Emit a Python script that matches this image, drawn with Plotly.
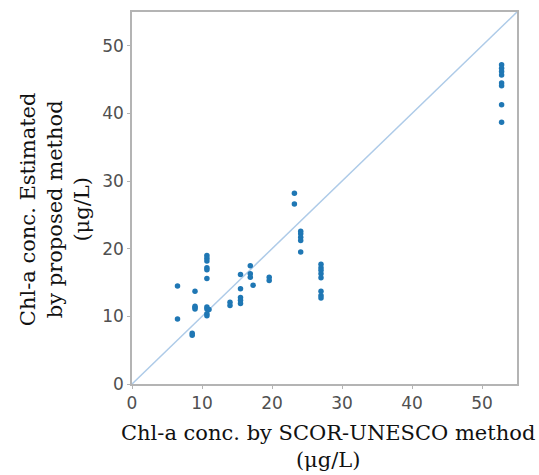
import plotly.graph_objects as go

# SCOR-UNESCO (x) vs proposed method (y), µg/L
x_vals = [6.5, 6.5,
          9.0, 9.0, 9.0, 9.0, 8.6, 8.6,
          10.7, 10.7, 10.7, 10.7, 10.7, 10.7,
          10.7, 10.7, 10.7, 10.7, 11.0,
          14.0, 14.0,
          15.5, 15.5, 15.5, 15.5, 15.5,
          16.9, 16.9, 16.9, 17.3,
          19.6, 19.6,
          23.2, 23.2,
          24.1, 24.1, 24.1, 24.1, 24.1,
          27.0, 27.0, 27.0, 27.0, 27.0, 27.0, 27.0, 27.0,
          52.8, 52.8, 52.8, 52.8, 52.8, 52.8, 52.8, 52.8]
y_vals = [14.5, 9.6,
          13.7, 11.1, 11.3, 11.5, 7.5, 7.2,
          19.0, 18.6, 18.2, 17.2, 16.9, 15.6,
          11.4, 11.1, 10.4, 10.1, 11.0,
          12.1, 11.6,
          16.2, 14.1, 12.8, 12.4, 11.9,
          17.5, 16.3, 15.8, 14.6,
          15.8, 15.3,
          28.2, 26.6,
          22.6, 22.2, 21.7, 21.2, 19.5,
          17.7, 17.2, 16.8, 16.3, 15.7, 13.7, 13.1, 12.7,
          47.2, 46.7, 46.2, 45.7, 44.5, 44.1, 41.3, 38.7]
line_ends = [0, 55]
tick_vals = [0, 10, 20, 30, 40, 50]

fig = go.Figure()
fig.add_trace(go.Scatter(x=line_ends, y=line_ends, mode="lines",
                         line=dict(color="#aecbe8", width=1.5),
                         hoverinfo="skip", showlegend=False))
fig.add_trace(go.Scatter(x=x_vals, y=y_vals, mode="markers",
                         marker=dict(color="#1f77b4", size=5.5),
                         showlegend=False))

axis_common = dict(range=[0, 55], tickvals=tick_vals, showgrid=False, zeroline=False,
                   showline=True, linecolor="#b4b4b4", linewidth=1.5, mirror=True,
                   ticks="outside", ticklen=3, tickcolor="#b4b4b4",
                   tickfont=dict(family="DejaVu Sans", size=17, color="#505050"))
fig.update_xaxes(**axis_common)
fig.update_yaxes(**axis_common)

serif = dict(family="DejaVu Serif", size=21, color="#111111")
fig.add_annotation(text="Chl-a conc. by SCOR-UNESCO method<br>(μg/L)",
                   xref="paper", yref="paper", x=0.51, y=-0.168,
                   xanchor="center", yanchor="middle", showarrow=False,
                   font=serif)
fig.add_annotation(text="Chl-a conc. Estimated<br>by proposed method<br>(μg/L)",
                   xref="paper", yref="paper", x=-0.2, y=0.47,
                   xanchor="center", yanchor="middle", textangle=-90,
                   showarrow=False, font=serif)

fig.update_layout(width=539, height=475,
                  margin=dict(l=132, r=22, t=10, b=91),
                  plot_bgcolor="white", paper_bgcolor="white")
fig.write_html("out.html")
